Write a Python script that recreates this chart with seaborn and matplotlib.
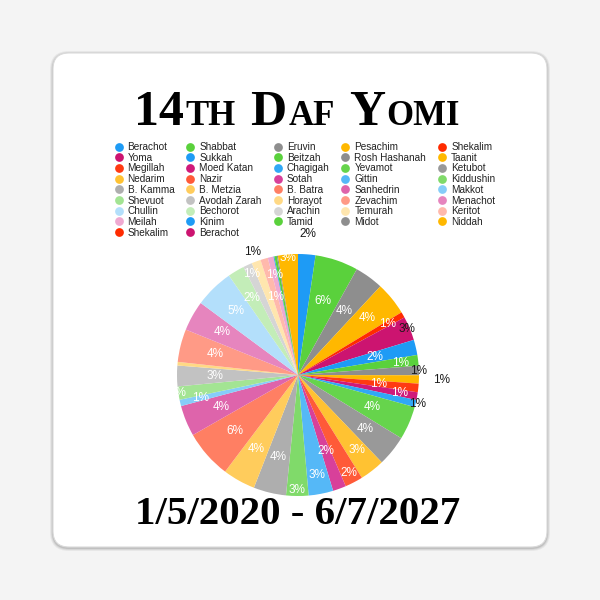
import matplotlib
matplotlib.use("Agg")
import matplotlib.pyplot as plt
import seaborn as sns
from matplotlib.patches import FancyBboxPatch
from matplotlib.lines import Line2D
import numpy as np

# ---------------- data ----------------
tractates = ["Berachot", "Shabbat", "Eruvin", "Pesachim", "Shekalim",
             "Yoma", "Sukkah", "Beitzah", "Rosh Hashanah", "Taanit",
             "Megillah", "Moed Katan", "Chagigah", "Yevamot", "Ketubot",
             "Nedarim", "Nazir", "Sotah", "Gittin", "Kiddushin",
             "B. Kamma", "B. Metzia", "B. Batra", "Sanhedrin", "Makkot",
             "Shevuot", "Avodah Zarah", "Horayot", "Zevachim", "Menachot",
             "Chullin", "Bechorot", "Arachin", "Temurah", "Keritot",
             "Meilah", "Kinim", "Tamid", "Midot", "Niddah",
             "Shekalim", "Berachot"]
days = [63, 156, 104, 120, 21,
        87, 55, 39, 34, 30,
        31, 28, 26, 121, 111,
        90, 65, 48, 89, 81,
        118, 118, 175, 112, 23,
        48, 75, 13, 119, 109,
        141, 60, 33, 33, 27,
        21, 3, 9, 4, 72,
        0, 0]
title_parts = [("14", "big"), ("TH", "small"), (" ", "gap"), ("D", "big"), ("AF", "small"),
               (" ", "gap"), ("Y", "big"), ("OMI", "small")]
date_text = "1/5/2020 - 6/7/2027"

# ---------------- style ----------------
colors = [
    "#1E9BF5", "#5AD13C", "#8E8E8E", "#FFB800", "#FF2B00", "#CC1470",
    "#1E9BF5", "#5AD13C", "#8E8E8E", "#FFB800", "#FF3A12", "#D01A7A",
    "#30A8F6", "#66D44C", "#999999", "#FFC232", "#FF5A38", "#D8409A",
    "#55B8F7", "#80DA6A", "#AEAEAE", "#FFCC5C", "#FF7F63", "#DE64AB",
    "#86CDF9", "#A3E493", "#C2C2C2", "#FFD985", "#FF9A86", "#E685BE",
    "#B3DFFB", "#C3EDB8", "#D5D5D5", "#FFE6AE", "#FFB9AC", "#EFA9D1",
    "#1E9BF5", "#5AD13C", "#8E8E8E", "#FFB800", "#FF2B00", "#CC1470",
]
label_r = {"Berachot": 1.17, "Shabbat": 0.65, "Eruvin": 0.65, "Pesachim": 0.74,
           "Shekalim": 0.85, "Yoma": 0.98, "Sukkah": 0.65, "Beitzah": 0.85,
           "Rosh Hashanah": 1.0, "Taanit": 1.19, "Megillah": 0.67, "Moed Katan": 0.85,
           "Chagigah": 1.02, "Yevamot": 0.67, "Ketubot": 0.71, "Nedarim": 0.79,
           "Nazir": 0.91, "Sotah": 0.67, "Gittin": 0.84, "Kiddushin": 0.95,
           "B. Kamma": 0.70, "B. Metzia": 0.70, "B. Batra": 0.70, "Sanhedrin": 0.69,
           "Makkot": 0.83, "Shevuot": 1.0, "Avodah Zarah": 0.69, "Zevachim": 0.71,
           "Menachot": 0.72, "Chullin": 0.74, "Bechorot": 0.74, "Arachin": 0.92,
           "Temurah": 1.08, "Keritot": 0.67, "Meilah": 0.85, "Niddah": 0.97}
dark_labels = {"Berachot", "Yoma", "Rosh Hashanah", "Taanit", "Chagigah", "Temurah"}

sns.set_theme(style="white")
plt.rcParams['font.family'] = ['Liberation Sans', 'DejaVu Sans']

W = 600.0
fig = plt.figure(figsize=(6, 6), dpi=100)
fig.patch.set_facecolor("#F4F4F4")

# card with shadow
for grow, alpha in [(3, 0.05), (2, 0.07), (1, 0.10)]:
    sh = FancyBboxPatch(((53 - grow) / W, (53 - grow - 1) / W), (494 + 2 * grow) / W, (494 + 2 * grow) / W,
                        boxstyle="round,pad=0,rounding_size=%f" % ((16 + grow) / W),
                        transform=fig.transFigure, fc="#000000", ec="none", alpha=alpha, zorder=-3)
    fig.add_artist(sh)
card = FancyBboxPatch((53 / W, 53 / W), 494 / W, 494 / W,
                      boxstyle="round,pad=0,rounding_size=%f" % (16 / W),
                      transform=fig.transFigure, fc="white", ec="#DADADA", lw=0.8, zorder=-2)
fig.add_artist(card)

# ---------------- pie ----------------
cx, cy, R = 298, 375, 121
ax = fig.add_axes([(cx - R) / W, (W - cy - R) / W, 2 * R / W, 2 * R / W])
ax.set_zorder(2)
ax.set_facecolor("none")
ax.patch.set_alpha(0)
wedges, _ = ax.pie(days, colors=colors, startangle=90, counterclock=False,
                   wedgeprops=dict(linewidth=0))
ax.set_xlim(-1, 1)
ax.set_ylim(-1, 1)
ax.set_aspect("equal")
ax.axis("off")
total = float(sum(days))
for name, val, w in zip(tractates, days, wedges):
    pct = 100.0 * val / total
    if pct < 0.5:
        continue
    ang = np.deg2rad((w.theta1 + w.theta2) / 2.0)
    r = label_r.get(name, 0.7)
    col = "#1a1a1a" if name in dark_labels else "white"
    ax.text(r * np.cos(ang), r * np.sin(ang), "%.0f%%" % pct, ha="center", va="center",
            fontsize=8.5, color=col, clip_on=False, zorder=5)

# ---------------- legend (row-major order, 5 columns) ----------------
handles = [Line2D([], [], marker="o", linestyle="none", markersize=6.3,
                  markerfacecolor=c, markeredgewidth=0) for c in colors]
ncol = 5
order = [i for c in range(ncol) for i in range(c, len(tractates), ncol)]
leg = fig.legend([handles[i] for i in order], [tractates[i] for i in order], ncol=ncol,
                 loc="upper left", bbox_to_anchor=(115 / W, 1 - 142 / W), frameon=False,
                 fontsize=7.2, handlelength=0.7, handletextpad=0.55, columnspacing=1.25,
                 labelspacing=0.07, borderpad=0, borderaxespad=0)
leg.set_zorder(3)
for t in leg.get_texts():
    t.set_color("#222222")

# ---------------- title (small caps) and date ----------------
renderer = fig.canvas.get_renderer()
sizes = {"big": 36, "small": 25}
pieces = []
xpos = 0.0
for s, kind in title_parts:
    if kind == "gap":
        xpos += 13
        continue
    t = fig.text(0, 0, s, fontsize=sizes[kind], family="Liberation Serif", weight="bold",
                 ha="left", va="baseline", color="black", zorder=3)
    wpx = t.get_window_extent(renderer).width
    pieces.append((t, xpos))
    xpos += wpx + 1.5
start = 298 - xpos / 2.0
for t, off in pieces:
    t.set_position(((start + off) / W, 1 - 125 / W))

fig.text(298 / W, 1 - 524 / W, date_text, fontsize=29.5, family="Liberation Serif", weight="bold",
         ha="center", va="baseline", color="black", zorder=3)

fig.savefig("out.png", dpi=100, facecolor=fig.get_facecolor())
